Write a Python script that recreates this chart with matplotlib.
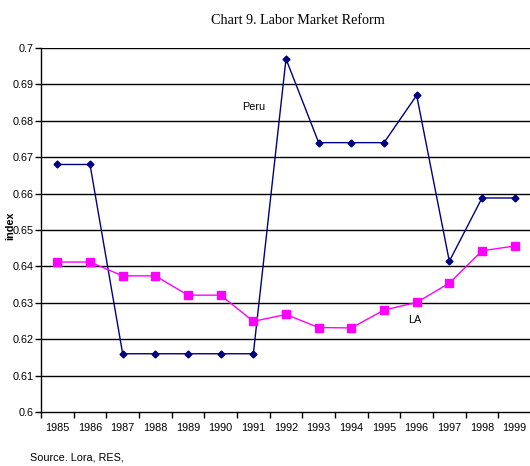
import matplotlib
matplotlib.use("Agg")
import matplotlib.pyplot as plt
import numpy as np

years = ["1985", "1986", "1987", "1988", "1989", "1990", "1991", "1992",
         "1993", "1994", "1995", "1996", "1997", "1998", "1999"]
peru = [0.668, 0.668, 0.616, 0.616, 0.616, 0.616, 0.616, 0.697,
        0.674, 0.674, 0.674, 0.687, 0.6414, 0.6588, 0.6588]
la = [0.6412, 0.6412, 0.6374, 0.6374, 0.6321, 0.6321, 0.6249, 0.6268,
      0.6232, 0.6231, 0.6280, 0.6301, 0.6354, 0.6443, 0.6456]
yticks = [0.6, 0.61, 0.62, 0.63, 0.64, 0.65, 0.66, 0.67, 0.68, 0.69, 0.7]

fs = 7.8
fig = plt.figure(figsize=(5.3, 4.66), dpi=100)
ax = fig.add_axes([41 / 530, 1 - 412 / 466, 490 / 530, 364 / 466])

x = np.arange(len(years))
for v in yticks[1:]:
    ax.axhline(v, color="black", lw=1, zorder=1)

ax.plot(x, peru, color="#000080", marker="D", ms=3.5, lw=1, zorder=3)
ax.plot(x, la, color="#ff00ff", marker="s", ms=5.5, lw=1, zorder=3)

ax.set_xlim(-0.5, len(years) - 0.5)
ax.set_ylim(0.6, 0.7)
ax.set_yticks(yticks)
ax.set_yticklabels([f"{v:g}" for v in yticks], fontsize=fs, family="Liberation Sans")
ax.set_xticks(x)
ax.set_xticklabels(years, fontsize=fs, family="Liberation Sans")
ax.set_xticks(np.arange(-0.5, len(years), 1), minor=True)
ax.tick_params(axis="x", which="major", length=0, pad=8)
ax.tick_params(axis="x", which="minor", length=4, direction="out", width=1)
ax.tick_params(axis="y", length=4, direction="out", width=1, pad=1)

for s in ["top", "right"]:
    ax.spines[s].set_visible(False)
ax.spines["left"].set_linewidth(1)
ax.spines["bottom"].set_linewidth(1)

ax.text(6.0, 0.6838, "Peru", fontsize=fs, family="Liberation Sans", ha="center", va="center")
ax.text(10.93, 0.6252, "LA", fontsize=fs, family="Liberation Sans", ha="center", va="center")

ax.set_ylabel("index", fontsize=fs, fontweight="bold", family="Liberation Sans")
ax.yaxis.set_label_coords((15 - 41) / 490, (412 - 226) / 364)

fig.text(298 / 530, 1 - 20 / 466, "Chart 9. Labor Market Reform", fontsize=10.2,
         family="Liberation Serif", ha="center", va="center")
fig.text(30 / 530, 1 - 457 / 466, "Source. Lora, RES,", fontsize=fs,
         family="Liberation Sans", ha="left", va="center")

fig.savefig("out.png", dpi=100)
